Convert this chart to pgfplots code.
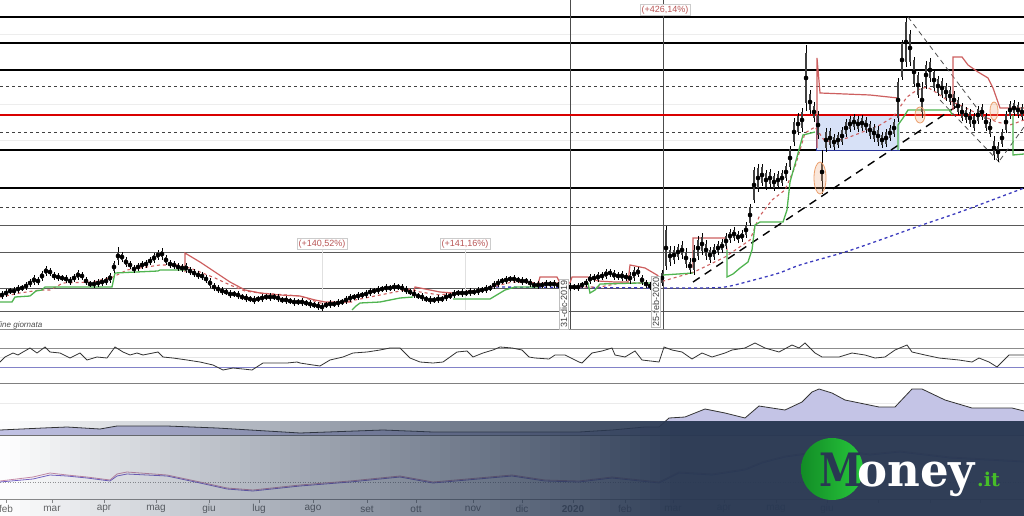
\documentclass[border=0pt]{standalone}
\usepackage{fontspec}
\setmainfont{Liberation Sans}
\newfontfamily\logofont{DejaVu Serif}
\usepackage{pgfplots}
\pgfplotsset{compat=1.18}
\usepackage{pgfplotstable}
\definecolor{navy}{RGB}{41,56,82}
\definecolor{resred}{RGB}{205,95,95}
\definecolor{supgreen}{RGB}{80,180,80}
\definecolor{mablue}{RGB}{60,60,190}
\definecolor{peach}{RGB}{235,160,110}
\definecolor{pctred}{RGB}{185,85,85}
\definecolor{boxblue}{RGB}{215,225,247}
\definecolor{logogreen}{RGB}{70,190,40}

% candles: body centre m, half body d, half range w (screen units)
\pgfplotstableread{
m d w
295 2 4
293 2 4
291 2 3
291 2 4
289 2 4
288 2 3
286 2 4
283 2 4
280 3 5
281 2 4
276 3 5
271 3 5
272 2 4
276 2 4
277 2 4
278 2 3
279 2 4
281 2 4
278 2 4
275 3 5
276 2 4
281 2 4
284 2 3
284 2 4
283 2 4
282 2 4
281 2 4
278 3 5
267 4 6
256 4 9
257 3 5
262 3 5
265 2 4
269 2 4
267 2 4
265 2 4
264 2 4
261 2 4
258 3 5
255 3 5
254 3 6
260 3 5
264 2 4
265 2 4
267 2 4
268 2 4
268 3 5
271 2 4
273 2 4
275 2 4
276 2 4
279 2 4
283 3 5
287 2 4
289 2 4
291 2 4
292 2 3
294 2 4
294 2 3
295 2 4
297 2 3
298 2 4
299 2 3
300 2 4
299 2 3
298 2 4
297 2 3
297 2 4
297 2 3
298 2 4
300 2 3
300 2 4
301 2 3
302 2 4
302 2 3
302 2 4
303 2 3
304 2 4
305 2 3
306 2 4
307 2 4
305 2 3
304 2 4
304 2 3
303 2 4
302 2 3
300 2 4
298 2 4
297 2 3
296 2 4
295 2 3
294 2 4
292 2 4
291 2 3
290 2 4
289 2 3
288 2 4
288 2 3
287 2 4
287 2 3
288 2 4
290 2 4
292 2 3
294 2 4
296 2 3
297 2 4
299 2 3
300 2 4
300 2 3
299 2 4
299 2 3
297 2 4
296 2 3
294 2 4
293 2 3
293 2 4
293 2 3
292 2 4
292 2 3
291 2 4
290 2 3
289 2 4
288 2 3
285 2 4
283 2 4
281 2 3
280 2 4
279 2 3
279 2 4
280 2 3
281 2 4
281 2 3
283 2 4
285 2 3
285 2 4
285 2 3
284 2 4
284 2 3
284 2 4
285 2 3
285 2 4
286 2 3
287 2 4
287 2 3
287 2 4
285 2 3
283 2 4
279 3 5
278 2 4
277 3 5
276 2 4
274 3 5
273 2 4
275 3 5
276 2 4
276 3 5
277 2 4
278 3 6
274 4 7
272 3 5
280 3 5
284 2 4
286 2 4
287 2 3
285 2 4
278 5 8
248 18 22
256 6 10
255 5 9
252 5 8
250 5 9
258 6 10
266 4 8
260 10 15
248 8 12
244 7 11
250 6 10
255 5 8
252 5 8
248 4 7
246 4 7
241 5 8
236 4 7
234 4 7
237 3 6
236 3 6
230 5 8
215 8 11
185 15 18
178 10 14
175 8 11
180 7 10
178 6 9
182 6 9
180 6 9
178 5 8
172 6 9
158 9 12
132 10 14
124 8 11
120 8 12
78 25 33
102 8 12
112 6 10
125 10 14
172 9 22
140 8 12
138 7 10
142 5 8
140 5 8
136 6 9
128 6 9
124 5 8
122 5 8
124 5 8
123 5 8
125 5 8
130 6 9
133 6 9
136 6 10
140 5 8
138 6 9
133 5 8
128 6 9
100 18 22
60 17 20
42 20 25
48 14 18
72 12 15
85 10 13
100 12 18
75 10 14
70 8 12
80 8 11
86 7 10
88 7 10
92 6 9
96 6 9
100 6 9
106 6 9
112 6 9
115 5 8
118 6 9
122 6 9
115 6 9
112 5 8
122 6 9
128 6 9
148 7 12
152 6 10
138 6 9
122 8 11
110 6 9
108 5 8
110 5 8
112 5 8
}\candles

\begin{document}
\begin{tikzpicture}[x=1pt,y=1pt]
\begin{axis}[at={(0,0)}, anchor=south west, scale only axis,
  width=1024pt, height=516pt, xmin=0, xmax=1024, ymin=0, ymax=516,
  y dir=reverse, axis lines=none, clip=true]

% faint grid
\pgfplotsinvokeforeach{34,104,140}{\addplot[black!7, line width=0.8pt] coordinates {(0,#1) (1024,#1)};}
% horizontal levels
\pgfplotsinvokeforeach{17,43,70,150,188}{\addplot[black, line width=1.3pt] coordinates {(0,#1) (1024,#1)};}
\pgfplotsinvokeforeach{86,132,207}{\addplot[black!75, line width=0.8pt, dash pattern=on 3pt off 3pt] coordinates {(0,#1) (1024,#1)};}
\pgfplotsinvokeforeach{225,252,288,311}{\addplot[black!65, line width=1pt] coordinates {(0,#1) (1024,#1)};}
\addplot[black!45, line width=0.9pt] coordinates {(0,329) (1024,329)};
% verticals
\addplot[black!70, line width=0.9pt] coordinates {(570,0) (570,329)};
\addplot[black!70, line width=0.9pt] coordinates {(663,0) (663,329)};
\addplot[black!12, line width=0.7pt] coordinates {(322,250) (322,310)};
\addplot[black!12, line width=0.7pt] coordinates {(465,250) (465,310)};

% blue box
\addplot[fill=boxblue, draw=none] coordinates {(816,115) (900,115) (900,150) (816,150)} -- cycle;
\addplot[color={rgb,255:red,40;green,50;blue,150}, line width=1pt] coordinates {(816,115) (816,150) (900,150)};

% red horizontal
\addplot[red!85!black, line width=1.3pt] coordinates {(0,115) (1024,115)};

% blue dotted long MA
\addplot[mablue, line width=1.3pt, dash pattern=on 3pt off 3pt, smooth] coordinates {(490,287) (663,288) (700,288) (725,287) (750,281) (779,273) (800,265) (845,252) (880,240) (922,225) (960,212) (1000,197) (1024,188)};

% black dashed trendline
\addplot[black, line width=1.4pt, dash pattern=on 8pt off 6pt] coordinates {(693,282) (957,106)};
% thin dashed channel lines
\addplot[black!70, line width=0.8pt, dash pattern=on 5pt off 4pt] coordinates {(908,17) (992,128)};
\addplot[black!70, line width=0.8pt, dash pattern=on 5pt off 4pt] coordinates {(940,100) (1000,163)};
\addplot[black!70, line width=0.8pt, dash pattern=on 5pt off 4pt] coordinates {(1000,160) (1024,127)};

% red dashed mid line
\addplot[resred, line width=1.1pt, dash pattern=on 3pt off 3pt] coordinates {(0,297) (20,293) (40,290) (50,290) (63,283) (93,282) (113,277) (127,270) (140,268) (160,265) (177,265) (190,268) (200,272) (215,278) (230,285) (245,291) (260,293) (300,296) (320,303) (340,303) (355,300) (380,295) (410,289) (420,292) (440,295) (460,292) (480,290) (500,285) (512,282) (540,283) (560,283) (575,287) (600,287) (620,283) (640,283) (660,282) (694,272) (725,257) (750,240) (759,217) (772,200) (785,190) (795,167) (805,133) (815,127) (824,140) (832,142) (847,138) (860,133) (880,125) (893,117) (900,107) (907,97) (917,90) (927,87) (937,93) (947,100) (960,105) (980,115) (997,122) (1010,125) (1024,120)};

% red resistance segments
\addplot[resred, line width=1.2pt] coordinates {(185,272) (185,253) (200,262) (215,272) (230,282) (245,290) (260,293) (280,295) (300,296) (315,300) (325,302) (352,302)};
\addplot[resred, line width=1.2pt] coordinates {(413,296) (415,287) (425,289) (440,292) (453,293)};
\addplot[resred, line width=1.2pt] coordinates {(538,284) (540,277) (557,277) (560,283) (570,283) (572,277) (588,277) (598,281) (615,282) (628,282) (630,265) (645,268) (657,275) (662,280)};
\addplot[resred, line width=1.2pt] coordinates {(693,268) (693,238) (725,238) (727,250)};
\addplot[resred, line width=1.2pt] coordinates {(817,148) (817,58) (820,93) (870,95) (898,98) (898,110)};
\addplot[resred, line width=1.2pt] coordinates {(953,110) (953,57) (962,57) (968,65) (978,72) (988,78) (993,88) (1000,108) (1024,108)};

% green support segments
\addplot[supgreen, line width=1.3pt] coordinates {(0,302) (12,302) (15,297) (30,296) (36,291) (42,290) (45,287) (112,287) (115,273) (158,271) (160,270) (187,270)};
\addplot[supgreen, line width=1.3pt] coordinates {(352,310) (356,306) (360,303) (380,302) (400,298) (413,297)};
\addplot[supgreen, line width=1.3pt] coordinates {(453,299) (490,299) (505,290) (515,287) (538,287)};
\addplot[supgreen, line width=1.3pt] coordinates {(588,283) (590,293) (595,290) (600,284) (640,283) (660,283) (663,275) (693,273)};
\addplot[supgreen, line width=1.3pt] coordinates {(727,250) (727,277) (733,274) (740,268) (748,262) (752,250) (755,225) (760,222) (783,222) (787,210) (790,182) (797,157) (803,135) (815,132)};
\addplot[supgreen, line width=1.3pt] coordinates {(898,150) (898,125) (903,118) (908,110) (950,110) (952,115)};
\addplot[supgreen, line width=1.3pt] coordinates {(1013,115) (1013,155) (1024,154)};

% candles: wicks then bodies
\addplot[only marks, mark=none, black,
  error bars/.cd, y dir=both, y explicit, error mark=none,
  error bar style={line width=0.6pt, black}]
  table[x expr=2+4*\coordindex, y=m, y error=w] {\candles};
\addplot[only marks, mark=none, black,
  error bars/.cd, y dir=both, y explicit, error mark=none,
  error bar style={line width=1.9pt, black!75}]
  table[x expr=2+4*\coordindex, y=m, y error=d] {\candles};

% ellipses
\draw[peach, line width=0.8pt, fill=peach, fill opacity=0.25] (axis cs:820,178) ellipse [x radius=6pt, y radius=16pt];
\draw[peach, line width=0.8pt, fill=peach, fill opacity=0.25] (axis cs:920,115) ellipse [x radius=5pt, y radius=8pt];
\draw[peach, line width=0.8pt, fill=peach, fill opacity=0.25] (axis cs:994,111) ellipse [x radius=4pt, y radius=9pt];

% RSI panel
\addplot[black!45, line width=0.8pt] coordinates {(0,348) (1024,348)};
\addplot[black!10, line width=0.6pt] coordinates {(0,357) (1024,357)};
\addplot[color={rgb,255:red,130;green,130;blue,200}, line width=0.9pt] coordinates {(0,367) (1024,367)};
\addplot[black!50, line width=0.8pt] coordinates {(0,383) (1024,383)};
\addplot[black!80, line width=0.8pt] coordinates {(0,362) (5,357) (13,353) (18,355) (23,352) (30,348) (37,353) (45,347) (50,352) (60,353) (70,358) (80,353) (87,360) (97,357) (107,358) (115,347) (123,352) (130,355) (137,353) (143,355) (158,352) (163,357) (173,358) (187,360) (200,362) (213,365) (223,370) (233,368) (243,369) (252,370) (263,363) (273,363) (287,363) (297,362) (300,363) (313,365) (320,366) (330,360) (343,357) (353,353) (367,352) (380,350) (390,348) (400,348) (410,358) (420,362) (433,363) (443,362) (457,352) (467,351) (473,357) (483,353) (493,350) (500,347) (512,348) (522,350) (529,357) (535,358) (549,359) (555,355) (565,355) (579,362) (582,363) (592,353) (602,351) (612,348) (615,355) (625,357) (635,351) (642,360) (659,362) (664,347) (672,350) (682,352) (692,359) (702,353) (712,357) (725,353) (732,350) (745,348) (755,343) (765,348) (779,352) (792,345) (799,348) (805,343) (815,353) (822,357) (839,357) (852,353) (865,355) (875,358) (885,357) (895,350) (907,345) (912,352) (925,355) (939,358) (959,360) (972,362) (979,358) (989,362) (997,367) (1009,355) (1024,355)};

% volatility area panel
\addplot[black!8, line width=0.6pt] coordinates {(0,403) (1024,403)};
\addplot[fill={rgb,255:red,196;green,196;blue,230}, draw=none] coordinates {(0,430) (43,428) (67,427) (100,429) (117,426) (167,426) (217,428) (267,431) (300,433) (383,430) (433,432) (512,432) (579,432) (612,430) (645,427) (659,427) (669,418) (685,417) (705,409) (725,413) (745,418) (759,406) (785,410) (802,402) (812,392) (819,389) (832,393) (845,400) (879,407) (895,407) (912,389) (922,389) (945,400) (972,408) (995,408) (1012,408) (1024,411) (1024,435) (0,435)} -- cycle;
\addplot[black!80, line width=0.8pt] coordinates {(0,430) (43,428) (67,427) (100,429) (117,426) (167,426) (217,428) (267,431) (300,433) (383,430) (433,432) (512,432) (579,432) (612,430) (645,427) (659,427) (669,418) (685,417) (705,409) (725,413) (745,418) (759,406) (785,410) (802,402) (812,392) (819,389) (832,393) (845,400) (879,407) (895,407) (912,389) (922,389) (945,400) (972,408) (995,408) (1012,408) (1024,411)};
\addplot[black!55, line width=0.8pt] coordinates {(0,435) (1024,435)};

% MACD panel
\addplot[black!40, line width=0.6pt, dash pattern=on 1pt off 1.5pt] coordinates {(0,482) (1024,482)};
\addplot[color={rgb,255:red,200;green,140;blue,170}, line width=0.8pt] coordinates {(0,481) (33,477) (50,473) (67,475) (87,477) (110,480) (117,474) (127,472) (167,475) (200,482) (227,488) (253,490) (300,485) (350,481) (400,476) (433,482) (467,479) (512,475) (545,480) (579,481) (612,477) (659,482) (679,472) (712,474) (745,469) (762,462) (785,456) (800,454) (830,449) (870,454) (900,451) (950,457) (1024,461)};
\addplot[color={rgb,255:red,120;green,100;blue,200}, line width=0.8pt] coordinates {(0,482) (33,479) (50,475) (67,476) (87,478) (110,481) (117,476) (127,474) (167,476) (200,483) (227,489) (253,491) (300,486) (350,482) (400,477) (433,483) (467,480) (512,476) (545,481) (579,482) (612,478) (659,483) (679,473) (712,475) (745,470) (762,463) (785,457) (800,455) (830,450) (870,455) (900,452) (950,458) (1024,462)};
\addplot[black!45, line width=0.7pt] coordinates {(0,499) (1024,499)};
\pgfplotsinvokeforeach{6,52,104,156,209,259,313,367,416,473,522,573,625,673,724,776,827,878,930,980}{\addplot[black!45, line width=0.7pt] coordinates {(#1,499) (#1,503)};}
\end{axis}

% labels on top of the chart (y = 516 - screen y)
\node[rotate=90, fill=white, draw=black!25, inner sep=1.2pt, text=black!75, font=\fontsize{9}{9}\selectfont] at (564,212) {31-dic-2019};
\node[rotate=90, fill=white, draw=black!25, inner sep=1.2pt, text=black!75, font=\fontsize{9}{9}\selectfont] at (656,214) {25-feb-2020};
\node[fill=white, draw=black!20, inner sep=1.5pt, text=pctred, font=\fontsize{9}{9}\selectfont] at (322,272) {(+140,52\%)};
\node[fill=white, draw=black!20, inner sep=1.5pt, text=pctred, font=\fontsize{9}{9}\selectfont] at (465,272) {(+141,16\%)};
\node[fill=white, draw=black!20, inner sep=1.5pt, text=pctred, font=\fontsize{9}{9}\selectfont] at (665,506) {(+426,14\%)};
\node[anchor=west, inner sep=0pt, text=black!70, font=\itshape\fontsize{8}{8}\selectfont] at (-2,191) {fine giornata};

% month labels
\foreach \px/\lab in {6/feb,52/mar,104/apr,156/mag,209/giu,259/lug,313/ago,367/set,416/ott,473/nov,522/dic,625/feb,673/mar,724/apr,776/mag,827/giu}{
  \node[text=black!60, font=\fontsize{10}{10}\selectfont] at (\px,7) {\lab};
}
\node[text=black!60, font=\bfseries\fontsize{10}{10}\selectfont] at (573,7) {2020};

% dark gradient band built from strips of rising opacity
\foreach \k in {0,...,69}{
  \pgfmathsetmacro{\xa}{10*\k}
  \pgfmathsetmacro{\xb}{10*\k+10.3}
  \pgfmathsetmacro{\op}{min(0.97,(\k+0.5)/68*0.97)}
  \fill[navy, fill opacity=\op] (\xa,0) rectangle (\xb,95);
}
\fill[navy, fill opacity=0.97] (700,0) rectangle (1024,95);

% logo
\shade[left color={rgb,255:red,18;green,140;blue,38}, right color={rgb,255:red,40;green,200;blue,60}] (832,47) circle (31);
\node[anchor=base west, inner sep=0pt, text=navy, xscale=0.84] at (819,29) {\logofont\bfseries\fontsize{46}{46}\selectfont M};
\node[anchor=base west, inner sep=0pt, text=white, xscale=0.98] at (857,29) {\logofont\bfseries\fontsize{46}{46}\selectfont oney};
\node[anchor=base west, inner sep=0pt, text=logogreen] at (977,29) {\logofont\bfseries\fontsize{19}{19}\selectfont .it};

\pgfresetboundingbox
\path (0,0) rectangle (1024,516);
\end{tikzpicture}
\end{document}
